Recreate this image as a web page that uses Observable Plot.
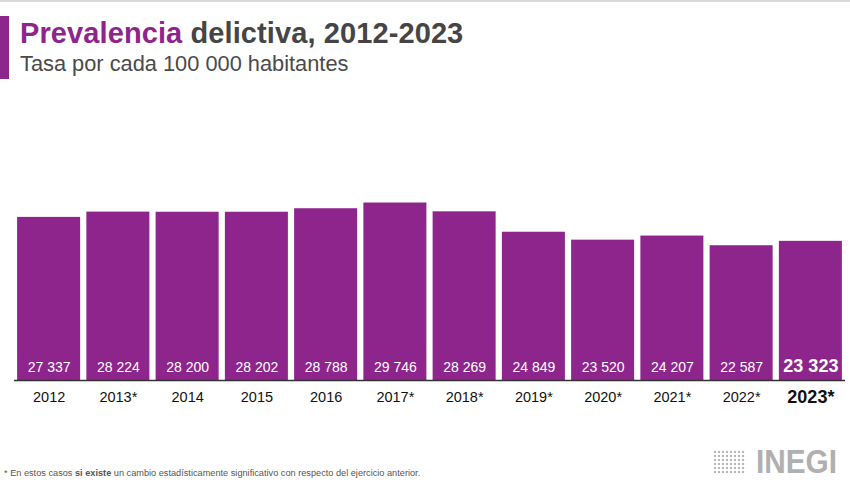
<!DOCTYPE html>
<html>
<head>
<meta charset="utf-8">
<script src="https://cdn.jsdelivr.net/npm/d3@7"></script>
<script src="https://cdn.jsdelivr.net/npm/@observablehq/plot@0.6"></script>
<style>
  html, body { margin: 0; padding: 0; background: #fff; }
  body { width: 850px; height: 500px; position: relative; overflow: hidden; font-family: "Liberation Sans", Arial, sans-serif; }
  #topline { position: absolute; left: 0; top: 0; width: 850px; height: 2px; background: #d9d9d9; }
  #accent { position: absolute; left: 0; top: 16px; width: 9px; height: 63px; background: #8e258d; }
  #title { position: absolute; left: 20px; top: 17px; font-size: 29px; font-weight: bold; color: #454545; white-space: nowrap; letter-spacing: 0.1px; }
  #title .p { color: #8e258d; }
  #subtitle { position: absolute; left: 20px; top: 51px; font-size: 21.8px; color: #4a4a4a; white-space: nowrap; }
  #chart { position: absolute; left: 0; top: 90px; }
  #note { position: absolute; left: 4px; top: 468px; font-size: 9.2px; color: #555; white-space: nowrap; }
  #logo { position: absolute; left: 756px; top: 442px; font-size: 34px; font-weight: bold; color: #b0b0b0; line-height: 38px; transform: scaleX(0.875); transform-origin: left center; }
  #dots { position: absolute; left: 713px; top: 450px; width: 33px; height: 24px;
          background-image: radial-gradient(circle, #b8b8b8 1.3px, transparent 1.6px);
          background-size: 4px 4px; }
</style>
</head>
<body>
<div id="topline"></div>
<div id="accent"></div>
<div id="title"><span class="p">Prevalencia</span> delictiva, 2012-2023</div>
<div id="subtitle">Tasa por cada 100 000 habitantes</div>
<div id="chart"></div>
<div id="note">* En estos casos <b>si existe</b> un cambio estadísticamente significativo con respecto del ejercicio anterior.</div>
<div id="dots"></div>
<div id="logo">INEGI</div>
<script>
const years = ["2012","2013","2014","2015","2016","2017","2018","2019","2020","2021","2022","2023"];
const tickLabels = ["2012","2013*","2014","2015","2016","2017*","2018*","2019*","2020*","2021*","2022*","2023*"];
const rates = [27337, 28224, 28200, 28202, 28788, 29746, 28269, 24849, 23520, 24207, 22587, 23323];
const valueLabels = ["27 337","28 224","28 200","28 202","28 788","29 746","28 269","24 849","23 520","24 207","22 587","23 323"];

const data = years.map((y, i) => ({year: y, rate: rates[i], label: valueLabels[i], tick: tickLabels[i], last: i === years.length - 1}));
const normal = data.filter(d => !d.last);
const last = data.filter(d => d.last);

const purple = "#8e258d";

const chart = Plot.plot({
  width: 850,
  height: 330,
  marginLeft: 14,
  marginRight: 5,
  marginTop: 111,
  marginBottom: 40,
  style: {fontFamily: "'Liberation Sans', Arial, sans-serif", background: "transparent"},
  x: {domain: years, paddingInner: 0.09, paddingOuter: 0.045, round: false, axis: null},
  y: {domain: [0, 30000], axis: null},
  marks: [
    Plot.barY(data, {x: "year", y: "rate", fill: purple}),
    Plot.ruleY([0], {stroke: "#333", strokeWidth: 1.5}),
    Plot.text(normal, {x: "year", y: 0, text: "label", dy: -13, fill: "white", fontSize: 14}),
    Plot.text(last, {x: "year", y: 0, text: "label", dy: -14, fill: "white", fontSize: 18, fontWeight: "bold"}),
    Plot.text(normal, {x: "year", y: 0, text: "tick", dy: 17, fill: "#111", fontSize: 14.5}),
    Plot.text(last, {x: "year", y: 0, text: "tick", dy: 17, fill: "#111", fontSize: 18, fontWeight: "bold"})
  ]
});
document.getElementById("chart").appendChild(chart);
</script>
</body>
</html>
